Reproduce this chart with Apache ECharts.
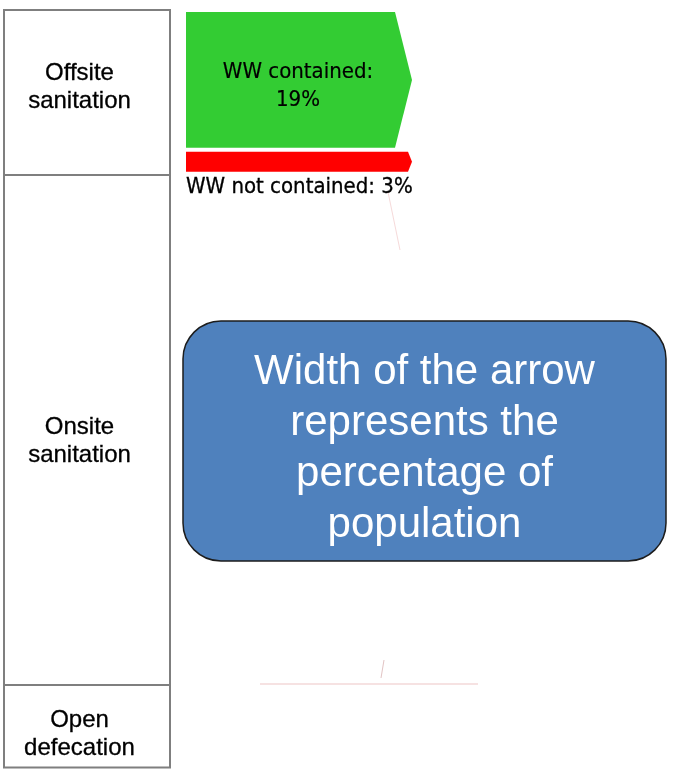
<!DOCTYPE html>
<html><head><meta charset="utf-8">
<script src="https://cdn.jsdelivr.net/npm/echarts@6/dist/echarts.min.js"></script>
<style>html,body{margin:0;padding:0;background:#fff}#c{width:673px;height:771px}</style>
</head><body><div id="c"></div>
<script>
// ---- data ----
const sectionNames = ['Offsite\nsanitation', 'Onsite\nsanitation', 'Open\ndefecation'];
const sectionShares = [22, 68, 11];           // population share of each sanitation type (%)
const flowLabels = ['WW contained:\n19%', 'WW not contained: 3%'];
const flowValues = [19, 3];                   // % of population
const flowColors = ['#33cc33', '#ff0000'];
const annotationText = 'Width of the arrow\nrepresents the\npercentage of\npopulation';

// ---- styles ----
const sectionLabelDy = [-5, 11, 8];
const sectionLabelX = 79.5;

// cumulative extents built from the data
const sectionData = [];
let acc = 0;
sectionShares.forEach((v, i) => { sectionData.push([acc, acc + v, i]); acc += v; });
const flowData = [];
acc = 0;
flowValues.forEach((v, i) => { flowData.push([acc, acc + v, i]); acc += v; });

const chart = echarts.init(document.getElementById('c'), null, {renderer: 'canvas'});
chart.setOption({
  animation: false,
  backgroundColor: '#ffffff',
  grid: {left: 0, top: 10, width: 673, height: 757.5},
  xAxis: {type: 'value', min: 0, max: 673, show: false},
  yAxis: [
    {type: 'value', inverse: true, min: 0, max: 106, show: false},
    {type: 'value', inverse: true, min: 0, max: 101, show: false}
  ],
  series: [
    {
      type: 'custom', yAxisIndex: 1, data: sectionData, silent: true,
      renderItem: function (params, api) {
        const i = api.value(2);
        const y0 = api.coord([0, api.value(0)])[1];
        const y1 = api.coord([0, api.value(1)])[1];
        const x0 = api.coord([4, 0])[0];
        const x1 = api.coord([170, 0])[0];
        return {type: 'group', children: [
          {type: 'rect', shape: {x: x0, y: y0, width: x1 - x0, height: y1 - y0},
           style: {fill: '#ffffff', stroke: '#7f7f7f', lineWidth: 2}},
          {type: 'text', x: sectionLabelX, y: (y0 + y1) / 2 + sectionLabelDy[i],
           style: {text: sectionNames[i], fontFamily: 'Liberation Sans, Arial, sans-serif', fontSize: 24,
                   fill: '#000', stroke: '#000', lineWidth: 0.3,
                   align: 'center', verticalAlign: 'middle', lineHeight: 28}}
        ]};
      }
    },
    {
      type: 'custom', yAxisIndex: 0, data: flowData, silent: true,
      renderItem: function (params, api) {
        const i = api.value(2);
        const off = 2 + i * 4;
        const y0 = api.coord([0, api.value(0)])[1] + off;
        const y1 = api.coord([0, api.value(1)])[1] + off - i * 1.5;
        const xs = api.coord([186, 0])[0];
        const xb = api.coord([i === 0 ? 395 : 408, 0])[0];
        const xt = api.coord([412, 0])[0];
        const ym = (y0 + y1) / 2;
        const children = [
          {type: 'polygon', shape: {points: [[xs, y0], [xb, y0], [xt, ym], [xb, y1], [xs, y1]]},
           style: {fill: flowColors[i]}}
        ];
        if (i === 0) {
          children.push({type: 'text', x: 298, y: ym + 6,
            style: {text: flowLabels[i], fontFamily: 'DejaVu Sans Condensed, DejaVu Sans, sans-serif', fontSize: 22,
                    fill: '#000', stroke: '#000', lineWidth: 0.2,
                    align: 'center', verticalAlign: 'middle', lineHeight: 28}});
        } else {
          children.push({type: 'text', x: xs, y: y1 + 16,
            style: {text: flowLabels[i], fontFamily: 'DejaVu Sans Condensed, DejaVu Sans, sans-serif', fontSize: 22,
                    fill: '#000', stroke: '#000', lineWidth: 0.3,
                    align: 'left', verticalAlign: 'middle'}});
        }
        return {type: 'group', children: children};
      }
    }
  ],
  graphic: [
    {type: 'line', shape: {x1: 388, y1: 192, x2: 400, y2: 250}, style: {stroke: '#f6dada', lineWidth: 1}, silent: true},
    {type: 'line', shape: {x1: 260, y1: 684, x2: 478, y2: 684}, style: {stroke: '#f3d9d9', lineWidth: 1.5}, silent: true},
    {type: 'line', shape: {x1: 384, y1: 660, x2: 381, y2: 678}, style: {stroke: '#e2c4c4', lineWidth: 1}, silent: true},
    {type: 'rect', shape: {x: 183, y: 321, width: 483, height: 240, r: 38},
     style: {fill: '#4f81bd', stroke: '#1c1c1c', lineWidth: 1.5}, silent: true},
    {type: 'text', x: 424.5, y: 449,
     style: {text: annotationText, fontFamily: 'Liberation Sans, Arial, sans-serif', fontSize: 42,
             fill: '#ffffff', align: 'center', verticalAlign: 'middle', lineHeight: 51}, silent: true}
  ]
});
</script>
</body></html>
